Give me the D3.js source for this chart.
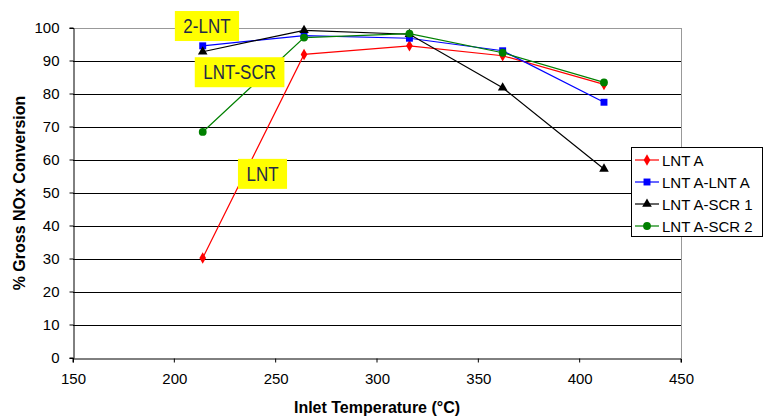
<!DOCTYPE html>
<html>
<head>
<meta charset="utf-8">
<script src="https://cdn.jsdelivr.net/npm/d3@7"></script>
<style>
  html, body { margin: 0; padding: 0; background: #fff; }
  svg { display: block; font-family: "Liberation Sans", Arial, sans-serif; }
</style>
</head>
<body>
<svg id="chart" width="764" height="416"></svg>
<script>
// Inlet temperatures (°C) shared by all series
const temps = [214, 264, 316, 362, 412];

// % gross NOx conversion per configuration
const lntA      = [30.3, 92.0, 94.6, 91.6, 82.9];
const lntALntA  = [94.6, 97.7, 96.9, 93.1, 77.5];
const lntAScr1  = [92.8, 99.3, 98.1, 81.9, 57.3];
const lntAScr2  = [68.5, 97.1, 98.3, 92.5, 83.5];

const seriesNames = ["LNT A", "LNT A-LNT A", "LNT A-SCR 1", "LNT A-SCR 2"];
const xTicks = [150, 200, 250, 300, 350, 400, 450];
const yTicks = [0, 10, 20, 30, 40, 50, 60, 70, 80, 90, 100];

// Text callouts: label and box centre in data units (temperature, conversion)
const calloutLabels = ["2-LNT", "LNT-SCR", "LNT"];
const calloutX = [216.1, 232.2, 243.5];
const calloutY = [100.6, 86.6, 55.8];

const series = [
  { name: seriesNames[0], values: lntA,     color: "#ff0000", shape: "diamond" },
  { name: seriesNames[1], values: lntALntA, color: "#0000ff", shape: "square" },
  { name: seriesNames[2], values: lntAScr1, color: "#000000", shape: "triangle" },
  { name: seriesNames[3], values: lntAScr2, color: "#008000", shape: "circle" }
];

const svg = d3.select("#chart");
const margin = { left: 73, right: 83, top: 28, bottom: 58 };
const W = 764, H = 416;

const x = d3.scaleLinear().domain([150, 450]).range([margin.left, W - margin.right]);
const y = d3.scaleLinear().domain([0, 100]).range([H - margin.bottom, margin.top]);

// Horizontal gridlines
svg.append("g").selectAll("line").data(yTicks.filter(t => t > 0 && t < 100)).join("line")
  .attr("x1", x(150)).attr("x2", x(450))
  .attr("y1", d => Math.round(y(d)) + 0.5).attr("y2", d => Math.round(y(d)) + 0.5)
  .attr("stroke", "#000").attr("stroke-width", 1);

// Plot frame: top and right in grey
svg.append("line").attr("x1", x(150)).attr("x2", x(450))
  .attr("y1", Math.round(y(100)) + 0.5).attr("y2", Math.round(y(100)) + 0.5)
  .attr("stroke", "#999");
svg.append("line").attr("x1", Math.round(x(450)) + 0.5).attr("x2", Math.round(x(450)) + 0.5)
  .attr("y1", y(100)).attr("y2", y(0))
  .attr("stroke", "#999");

// Axes
const xAxis = d3.axisBottom(x).tickValues(xTicks).tickSize(4).tickPadding(11);
const yAxis = d3.axisLeft(y).tickValues(yTicks).tickSize(4).tickPadding(10);

const gx = svg.append("g").attr("transform", `translate(0,${Math.round(y(0)) + 0.5})`).call(xAxis);
const gy = svg.append("g").attr("transform", `translate(${Math.round(x(150)) + 0.5},0)`).call(yAxis);
[gx, gy].forEach(g => {
  g.select(".domain").attr("stroke", "#000");
  g.selectAll(".tick line").attr("stroke", "#000");
  g.selectAll(".tick text").attr("fill", "#000")
    .style("font-family", "'Liberation Sans', Arial, sans-serif").style("font-size", "15px");
});
gx.selectAll(".tick line").attr("transform", "translate(-0.5,0)");
gy.selectAll(".tick line").attr("transform", "translate(0,-0.5)");

// Axis titles
svg.append("text").attr("x", (x(150) + x(450)) / 2).attr("y", 413)
  .attr("text-anchor", "middle").style("font-size", "16px").style("font-weight", "bold")
  .text("Inlet Temperature (°C)");
svg.append("text").attr("transform", `translate(25,${(y(0) + y(100)) / 2}) rotate(-90)`)
  .attr("text-anchor", "middle").style("font-size", "16px").style("font-weight", "bold")
  .text("% Gross NOx Conversion");

// Marker shapes
const symbolFor = {
  diamond: d3.symbol().type(d3.symbolDiamond).size(38),
  square: d3.symbol().type(d3.symbolSquare).size(48),
  triangle: d3.symbol().type(d3.symbolTriangle).size(40),
  circle: d3.symbol().type(d3.symbolCircle).size(48)
};

const line = d3.line().x((d, i) => x(temps[i])).y(d => y(d));

series.forEach(s => {
  svg.append("path").datum(s.values).attr("d", line)
    .attr("fill", "none").attr("stroke", s.color).attr("stroke-width", 1.2);
});
series.forEach(s => {
  svg.append("g").selectAll("path").data(s.values).join("path")
    .attr("d", symbolFor[s.shape])
    .attr("transform", (d, i) => `translate(${x(temps[i])},${y(d)})`)
    .attr("fill", s.color);
});

// Callout boxes
calloutLabels.forEach((lbl, i) => {
  const cx = x(calloutX[i]), cy = y(calloutY[i]);
  const g = svg.append("g");
  const t = g.append("text")
    .attr("transform", `translate(${cx},${cy}) scale(1,1.15)`)
    .attr("text-anchor", "middle").attr("dominant-baseline", "central")
    .style("font-size", "17px").attr("fill", "#1f2a48").text(lbl);
  const w = t.node().getComputedTextLength();
  g.insert("rect", "text")
    .attr("x", cx - w / 2 - 8.5).attr("y", cy - 15)
    .attr("width", w + 17).attr("height", 30)
    .attr("fill", "#ffff00");
});

// Legend
const lg = svg.append("g");
lg.append("rect").attr("x", 631.5).attr("y", 147.5).attr("width", 131).attr("height", 89)
  .attr("fill", "#fff").attr("stroke", "#000");
series.forEach((s, i) => {
  const cy = 160 + i * 22;
  lg.append("line").attr("x1", 635).attr("x2", 659).attr("y1", cy).attr("y2", cy)
    .attr("stroke", s.color).attr("stroke-width", 1.2);
  lg.append("path").attr("d", symbolFor[s.shape]).attr("transform", `translate(647,${cy})`)
    .attr("fill", s.color);
  lg.append("text").attr("x", 662).attr("y", cy).attr("dominant-baseline", "central")
    .style("font-size", "15px").attr("fill", "#000").text(s.name);
});
</script>
</body>
</html>
